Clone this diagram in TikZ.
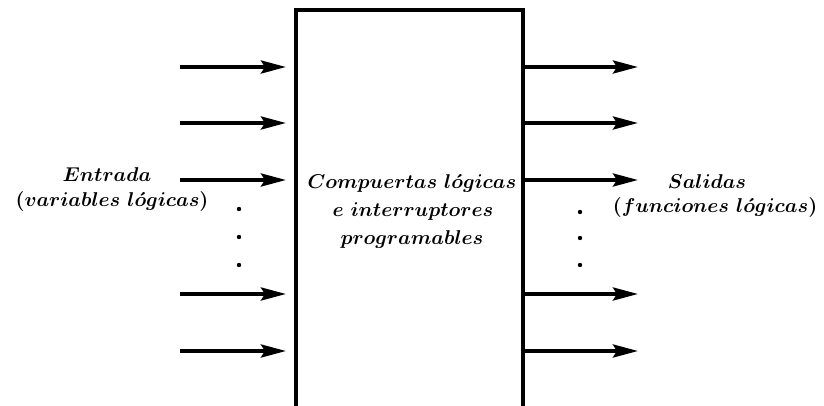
\documentclass[tikz,border=0pt]{standalone}
\usetikzlibrary{arrows.meta}
\begin{document}
\begin{tikzpicture}[x=0.5pt,y=-0.5pt,
  arr/.style={line width=1.9pt,-{Stealth[length=12.5pt,width=6.5pt,inset=2pt]}},
  boxline/.style={line width=2pt},
  lbl/.style={inner sep=0pt,font=\fontsize{10.4}{12.5}\selectfont\boldmath},
  dotmark/.style={circle,fill,inner sep=0pt,minimum size=2.2pt}]
\useasboundingbox (0,0) rectangle (824,406);
% box (open at the bottom)
\coordinate (bl) at (296,410);
\coordinate (tl) at (296,10);
\coordinate (tr) at (523,10);
\coordinate (br) at (523,410);
\draw[boxline] (bl) -- (tl) -- (tr) -- (br);
% arrows
\foreach \i/\y in {1/67,2/123,3/180,4/294,5/351}{
  \coordinate (in\i) at (180,\y);
  \coordinate (inE\i) at (286,\y);
  \draw[arr] (in\i) -- (inE\i);
  \coordinate (out\i) at (524,\y);
  \coordinate (outE\i) at (638,\y);
  \draw[arr] (out\i) -- (outE\i);
}
% dots
\node[dotmark] (ld1) at (239,209) {};
\node[dotmark] (ld2) at (239,237) {};
\node[dotmark] (ld3) at (239,265) {};
\node[dotmark] (rd1) at (580,212) {};
\node[dotmark] (rd2) at (580,238) {};
\node[dotmark] (rd3) at (580,265) {};
% texts
\node[lbl] (t1) at (412,184) {$Compuertas\ l\acute{o}gicas$};
\node[lbl] (t2) at (413,212) {$e\ interruptores$};
\node[lbl] (t3) at (412,240) {$programables$};
\node[lbl] (e1) at (107,175) {$Entrada$};
\node[lbl] (e2) at (112,201) {$(variables\ l\acute{o}gicas)$};
\node[lbl] (s1) at (707,182) {$Salidas$};
\node[lbl] (s2) at (715,208) {$(funciones\ l\acute{o}gicas)$};
\end{tikzpicture}
\end{document}
